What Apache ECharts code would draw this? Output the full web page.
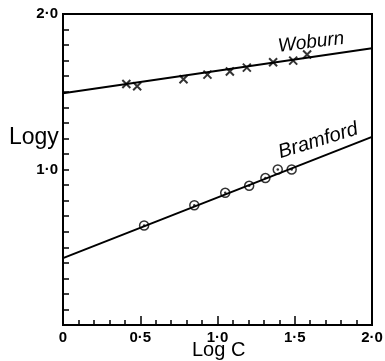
<!DOCTYPE html>
<html>
<head>
<meta charset="utf-8">
<script src="https://cdn.jsdelivr.net/npm/echarts@6/dist/echarts.min.js"></script>
<style>
html,body{margin:0;padding:0;background:#fff;}
#main{width:385px;height:361px;}
</style>
</head>
<body>
<div id="main"></div>
<script>
// data
var woburnPts = [[0.41,1.55],[0.48,1.535],[0.78,1.58],[0.935,1.61],[1.08,1.63],[1.19,1.655],[1.36,1.69],[1.49,1.70],[1.58,1.74]];
var woburnFit = [[0,1.49],[2,1.78]];
var bramfordPts = [[0.525,0.64],[0.85,0.77],[1.05,0.85],[1.205,0.895],[1.31,0.945],[1.39,1.0],[1.48,1.0]];
var bramfordFit = [[0,0.43],[2,1.21]];
var xLabels = [0, 0.5, 1.0, 1.5, 2.0];
var yLabels = [1.0, 2.0];

function dotFmt(v){
	if(v===0) return '0';
	return v.toFixed(1).replace('.', '\u00b7');
}
function hasVal(arr, v){
	for(var i=0;i<arr.length;i++){
		if(Math.abs(arr[i]-v)<1e-6) return true;
	}
	return false;
}

var myChart = echarts.init(document.getElementById('main'));
var font = '"Liberation Sans", Arial, sans-serif';

var option = {
	animation: false,
	grid: {left: 63, right: 13, top: 14, bottom: 36, containLabel: false, outerBoundsMode: 'none',
		show: true, borderColor: '#000', borderWidth: 2},
	xAxis: [{
		type: 'value', min: 0, max: 2, interval: 0.1,
		splitLine: {show: false},
		axisLine: {lineStyle: {color: '#000', width: 2}},
		axisTick: {inside: true, length: 5, lineStyle: {color: '#000', width: 1.5}},
		axisLabel: {
			color: '#000', fontSize: 15, fontWeight: 'bold', fontFamily: font, margin: 5,
			formatter: function(v){ return hasVal(xLabels, v) ? dotFmt(v) : ''; }
		}
	},{
		type: 'value', min: 0, max: 2, interval: 0.5, position: 'bottom',
		splitLine: {show: false},
		axisLine: {show: false},
		axisTick: {inside: true, length: 9, lineStyle: {color: '#000', width: 1.5}},
		axisLabel: {show: false}
	}],
	yAxis: {
		type: 'value', min: 0, max: 2, interval: 0.1,
		splitLine: {show: false},
		axisLine: {lineStyle: {color: '#000', width: 2}},
		axisTick: {inside: true, length: 6, lineStyle: {color: '#000', width: 1.5}},
		axisLabel: {
			color: '#000', fontSize: 15, fontWeight: 'bold', fontFamily: font, margin: 5,
			formatter: function(v){ return hasVal(yLabels, v) ? dotFmt(v) : ''; }
		}
	},
	series: [{
		type: 'line', data: woburnFit, symbol: 'none',
		lineStyle: {color: '#000', width: 2}
	},{
		type: 'line', data: bramfordFit, symbol: 'none',
		lineStyle: {color: '#000', width: 2}
	},{
		type: 'scatter', data: woburnPts,
		symbol: 'path://M0,0L10,10M10,0L0,10', symbolSize: 8,
		itemStyle: {color: 'transparent', borderColor: '#000', borderWidth: 2}
	},{
		type: 'scatter', data: bramfordPts, symbol: 'circle', symbolSize: 9,
		itemStyle: {color: '#fff', borderColor: '#000', borderWidth: 1.5}
	},{
		type: 'scatter', data: bramfordPts, symbol: 'circle', symbolSize: 2.5,
		itemStyle: {color: '#000'}
	}],
	graphic: [{
		type: 'text', left: 9, top: 126,
		style: {text: 'Logy', fill: '#000', fontSize: 23, fontFamily: font}
	},{
		type: 'text', left: 192, top: 340,
		style: {text: 'Log C', fill: '#000', fontSize: 20, fontFamily: font}
	},{
		type: 'text', left: 277, top: 29, rotation: 0.12,
		style: {text: 'Woburn', fill: '#000', fontSize: 19, fontStyle: 'italic', fontFamily: font}
	},{
		type: 'text', left: 276, top: 119, rotation: 0.3,
		style: {text: 'Bramford', fill: '#000', fontSize: 20, fontStyle: 'italic', fontFamily: font}
	}]
};
myChart.setOption(option);
</script>
</body>
</html>
